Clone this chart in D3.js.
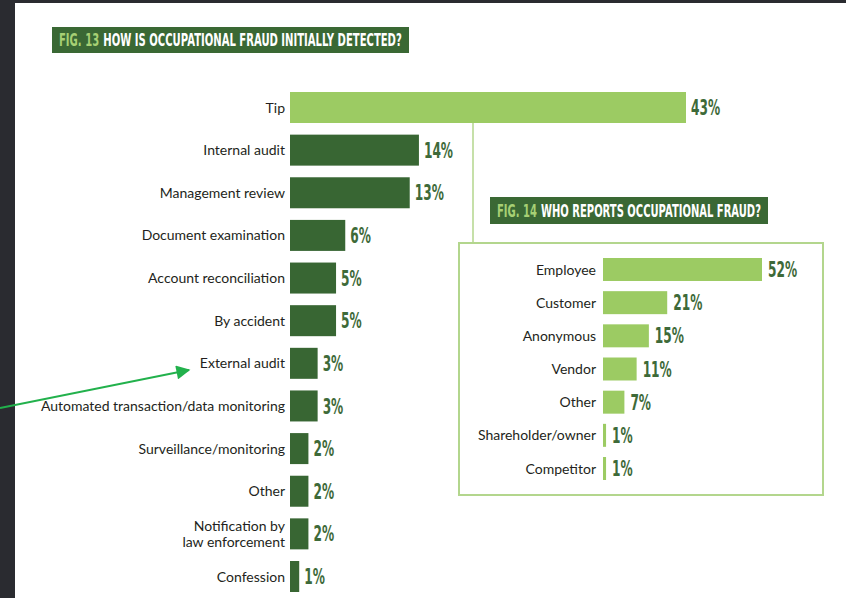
<!DOCTYPE html>
<html>
<head>
<meta charset="utf-8">
<script src="https://cdn.jsdelivr.net/npm/d3@7"></script>
<style>
  html, body { margin: 0; padding: 0; background: #2a2b30; }
  svg { display: block; }
  .lbl { font-family: Lato, "Open Sans", sans-serif; font-size: 14px; fill: #231f20; }
  .val { font-family: "DejaVu Sans", sans-serif; font-weight: 700; font-size: 21px; fill: #3e6a39; }
  .ttl { font-family: "DejaVu Sans", sans-serif; font-weight: 700; font-size: 17px; }
</style>
</head>
<body>
<svg id="chart" width="846" height="598"></svg>
<script>
// Fig. 13 — initial detection method (% of cases)
const detectCategories = [
  "Tip", "Internal audit", "Management review", "Document examination",
  "Account reconciliation", "By accident", "External audit",
  "Automated transaction/data monitoring", "Surveillance/monitoring", "Other",
  "Notification by\nlaw enforcement", "Confession"
];
const detectValues = [43, 14, 13, 6, 5, 5, 3, 3, 2, 2, 2, 1];

// Fig. 14 — source of tips (% of tips)
const reporterCategories = [
  "Employee", "Customer", "Anonymous", "Vendor", "Other",
  "Shareholder/owner", "Competitor"
];
const reporterValues = [52, 21, 15, 11, 7, 1, 1];

const fig13Title = ["FIG. 13", "HOW IS OCCUPATIONAL FRAUD INITIALLY DETECTED?"];
const fig14Title = ["FIG. 14", "WHO REPORTS OCCUPATIONAL FRAUD?"];

const DARK = "#386633", LIGHT = "#9ccb63", FRAME = "#b3d68d";
const CONDENSE = 0.58; // horizontal squeeze for the condensed display face

const svg = d3.select("#chart");

// page background
svg.append("rect").attr("x", 15).attr("y", 3).attr("width", 831).attr("height", 595).attr("fill", "#ffffff");

// green banner with a two-tone condensed heading squeezed to fit the box
function titleBox(x, y, w, h, parts) {
  svg.append("rect").attr("x", x).attr("y", y).attr("width", w).attr("height", h).attr("fill", "#3a6834");
  const g = svg.append("g");
  const a = g.append("text").attr("class", "ttl").attr("fill", "#a7d074")
    .attr("x", 0).attr("y", 0).attr("dy", "0.37em").text(parts[0]);
  const gap = 7;
  const aw = a.node().getComputedTextLength();
  const b = g.append("text").attr("class", "ttl").attr("fill", "#ffffff")
    .attr("x", aw + gap).attr("y", 0).attr("dy", "0.37em").text(parts[1]);
  const total = aw + gap + b.node().getComputedTextLength();
  const sx = (w - 14) / total;
  g.attr("transform", `translate(${x + 7},${y + h / 2}) scale(${sx},1)`);
}

function valueLabels(rows, xPos, yPos) {
  svg.append("g").selectAll("text").data(rows).join("text")
    .attr("class", "val")
    .attr("transform", d => `translate(${xPos(d)},${yPos(d)}) scale(${CONDENSE},1)`)
    .attr("dy", "0.36em")
    .text(d => d.v + "%");
}

// ---------- Fig. 13 ----------
titleBox(52, 27, 357, 26, fig13Title);

const x13 = d3.scaleLinear().domain([0, d3.max(detectValues)]).range([290, 686]);
const y13 = d3.scaleBand().domain(detectCategories).range([92, 592]).paddingInner(0.273).paddingOuter(0);

const rows13 = detectCategories.map((c, i) => ({ c, v: detectValues[i], i }));

// connector from the Tip bar down to the Fig. 14 panel
svg.append("line")
  .attr("x1", 473).attr("x2", 473)
  .attr("y1", y13("Tip") + y13.bandwidth()).attr("y2", 243)
  .attr("stroke", FRAME).attr("stroke-width", 1.5);

svg.append("g").selectAll("rect").data(rows13).join("rect")
  .attr("x", x13(0))
  .attr("y", d => y13(d.c))
  .attr("width", d => x13(d.v) - x13(0))
  .attr("height", y13.bandwidth())
  .attr("fill", d => d.i === 0 ? LIGHT : DARK);

const lab13 = svg.append("g").selectAll("text").data(rows13).join("text")
  .attr("class", "lbl")
  .attr("text-anchor", "end")
  .attr("x", x13(0) - 5)
  .attr("y", d => y13(d.c) + y13.bandwidth() / 2);
lab13.each(function(d) {
  const lines = d.c.split("\n");
  const sel = d3.select(this);
  lines.forEach((ln, k) => {
    sel.append("tspan").attr("x", x13(0) - 5)
      .attr("dy", k === 0 ? (0.36 - (lines.length - 1) * 0.55) + "em" : "1.1em")
      .text(ln);
  });
});

valueLabels(rows13, d => x13(d.v) + 5, d => y13(d.c) + y13.bandwidth() / 2);

// ---------- Fig. 14 ----------
titleBox(490, 197, 278, 27, fig14Title);

svg.append("rect").attr("x", 459).attr("y", 243).attr("width", 364).attr("height", 252)
  .attr("fill", "none").attr("stroke", FRAME).attr("stroke-width", 2);

const x14 = d3.scaleLinear().domain([0, d3.max(reporterValues)]).range([603, 762]);
const y14 = d3.scaleBand().domain(reporterCategories).range([258, 480]).paddingInner(0.307).paddingOuter(0);
const rows14 = reporterCategories.map((c, i) => ({ c, v: reporterValues[i] }));

svg.append("g").selectAll("rect").data(rows14).join("rect")
  .attr("x", x14(0))
  .attr("y", d => y14(d.c))
  .attr("width", d => Math.max(3, x14(d.v) - x14(0)))
  .attr("height", y14.bandwidth())
  .attr("fill", LIGHT);

svg.append("g").selectAll("text").data(rows14).join("text")
  .attr("class", "lbl")
  .attr("text-anchor", "end")
  .attr("x", x14(0) - 7)
  .attr("y", d => y14(d.c) + y14.bandwidth() / 2)
  .attr("dy", "0.36em")
  .text(d => d.c);

valueLabels(rows14, d => Math.max(x14(0) + 3, x14(d.v)) + 6, d => y14(d.c) + y14.bandwidth() / 2);

// ---------- pointer arrow to "External audit" ----------
svg.append("defs").append("marker")
  .attr("id", "head").attr("viewBox", "0 0 10 10")
  .attr("refX", 9).attr("refY", 5)
  .attr("markerWidth", 16).attr("markerHeight", 14)
  .attr("markerUnits", "userSpaceOnUse")
  .attr("orient", "auto")
  .append("path").attr("d", "M0,0 L10,5 L0,10 Z").attr("fill", "#22b14c");

svg.append("line")
  .attr("x1", 0).attr("y1", 408)
  .attr("x2", 189).attr("y2", 370)
  .attr("stroke", "#22b14c").attr("stroke-width", 2)
  .attr("marker-end", "url(#head)");
</script>
</body>
</html>
